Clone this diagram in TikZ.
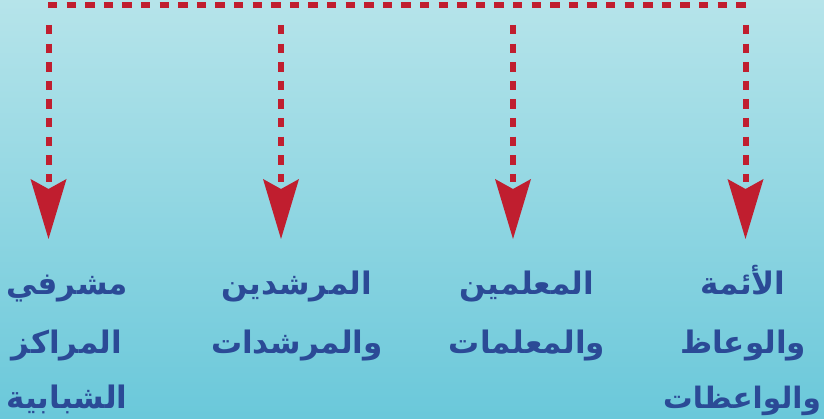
\documentclass[tikz,border=0pt]{standalone}
\usepackage{fontspec}
\newfontfamily\arabicfont[Script=Arabic]{DejaVu Sans}
\TeXXeTstate=1
\definecolor{bgtop}{RGB}{182,228,234}
\definecolor{bgbot}{RGB}{106,200,218}
\definecolor{dred}{RGB}{192,30,47}
\definecolor{tblue}{RGB}{43,74,150}
\newcommand\myarrowhead[1]{\fill[dred] (#1) -- ++(-18,-60) -- ++(18,10) -- ++(18,-10) -- cycle;}
\begin{document}
\begin{tikzpicture}[x=1pt,y=-1pt,
  dashline/.style={draw=dred, line width=6pt, dash pattern=on 9.4pt off 9.2pt},
  lbl/.style={font=\arabicfont\bfseries\fontsize{31}{31}\selectfont, text=tblue, anchor=base, inner sep=0pt}]
\useasboundingbox (0,0) rectangle (824,419);
\shade[top color=bgtop, bottom color=bgbot] (0,0) rectangle (824,419);
% top line
\coordinate (hL) at (48,5);
\coordinate (hR) at (747,5);
\draw[dashline] (hL) -- (hR);
% columns
\foreach \n/\x in {1/745.5,2/513,3/281,4/48.5}{
  \coordinate (v\n) at (\x,25);
  \coordinate (b\n) at (\x,182);
  \coordinate (t\n) at (\x,239);
  \draw[dashline] (v\n) -- (b\n);
  \myarrowhead{t\n}
}
% labels
\node[lbl] (c1a) at (743,295) {\beginR الأئمة\endR};
\node[lbl] (c1b) at (743,353) {\beginR والوعاظ\endR};
\node[lbl, font=\arabicfont\bfseries\fontsize{29.5}{29.5}\selectfont] (c1c) at (742,408) {\beginR والواعظات\endR};
\node[lbl] (c2a) at (527,295) {\beginR المعلمين\endR};
\node[lbl] (c2b) at (527,353) {\beginR والمعلمات\endR};
\node[lbl] (c3a) at (297,295) {\beginR المرشدين\endR};
\node[lbl] (c3b) at (297,353) {\beginR والمرشدات\endR};
\node[lbl] (c4a) at (67,295) {\beginR مشرفي\endR};
\node[lbl] (c4b) at (67,353) {\beginR المراكز\endR};
\node[lbl] (c4c) at (67,408) {\beginR الشبابية\endR};
\end{tikzpicture}
\end{document}
